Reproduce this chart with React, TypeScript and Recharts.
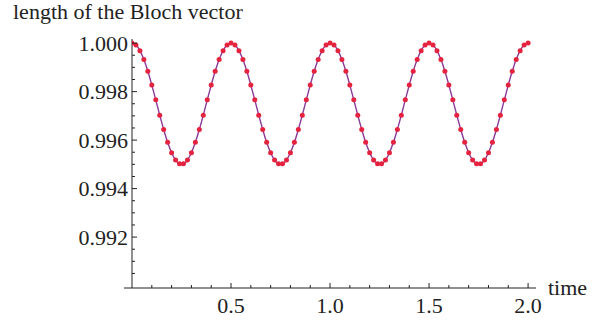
import { LineChart, Line, XAxis, YAxis, ReferenceLine } from 'recharts';

// sample times (every 0.02)
const times = [
  0, 0.02, 0.04, 0.06, 0.08, 0.1, 0.12, 0.14, 0.16, 0.18, 0.2, 0.22, 0.24, 0.26, 0.28, 0.3, 0.32, 0.34, 0.36, 0.38,
  0.4, 0.42, 0.44, 0.46, 0.48, 0.5, 0.52, 0.54, 0.56, 0.58, 0.6, 0.62, 0.64, 0.66, 0.68, 0.7, 0.72, 0.74, 0.76, 0.78,
  0.8, 0.82, 0.84, 0.86, 0.88, 0.9, 0.92, 0.94, 0.96, 0.98, 1.0, 1.02, 1.04, 1.06, 1.08, 1.1, 1.12, 1.14, 1.16, 1.18,
  1.2, 1.22, 1.24, 1.26, 1.28, 1.3, 1.32, 1.34, 1.36, 1.38, 1.4, 1.42, 1.44, 1.46, 1.48, 1.5, 1.52, 1.54, 1.56, 1.58,
  1.6, 1.62, 1.64, 1.66, 1.68, 1.7, 1.72, 1.74, 1.76, 1.78, 1.8, 1.82, 1.84, 1.86, 1.88, 1.9, 1.92, 1.94, 1.96, 1.98,
  2.0,
];

// length of the Bloch vector at each sample
const blochLength = [
  1.0, 0.99992, 0.99969, 0.99932, 0.99884, 0.99827, 0.99766, 0.99703, 0.99644, 0.99591, 0.99548, 0.99518, 0.99502,
  0.99502, 0.99518, 0.99548, 0.99591, 0.99644, 0.99703, 0.99766, 0.99827, 0.99884, 0.99932, 0.99969, 0.99992, 1.0,
  0.99992, 0.99969, 0.99932, 0.99884, 0.99827, 0.99766, 0.99703, 0.99644, 0.99591, 0.99548, 0.99518, 0.99502,
  0.99502, 0.99518, 0.99548, 0.99591, 0.99644, 0.99703, 0.99766, 0.99827, 0.99884, 0.99932, 0.99969, 0.99992, 1.0,
  0.99992, 0.99969, 0.99932, 0.99884, 0.99827, 0.99766, 0.99703, 0.99644, 0.99591, 0.99548, 0.99518, 0.99502,
  0.99502, 0.99518, 0.99548, 0.99591, 0.99644, 0.99703, 0.99766, 0.99827, 0.99884, 0.99932, 0.99969, 0.99992, 1.0,
  0.99992, 0.99969, 0.99932, 0.99884, 0.99827, 0.99766, 0.99703, 0.99644, 0.99591, 0.99548, 0.99518, 0.99502,
  0.99502, 0.99518, 0.99548, 0.99591, 0.99644, 0.99703, 0.99766, 0.99827, 0.99884, 0.99932, 0.99969, 0.99992, 1.0,
];

const xTicks = [0.1, 0.2, 0.3, 0.4, 0.5, 0.6, 0.7, 0.8, 0.9, 1.0, 1.1, 1.2, 1.3, 1.4, 1.5, 1.6, 1.7, 1.8, 1.9, 2.0];
const xLabels = [0.5, 1.0, 1.5, 2.0];
const yTicks = [
  0.9905, 0.991, 0.9915, 0.992, 0.9925, 0.993, 0.9935, 0.994, 0.9945, 0.995, 0.9955, 0.996, 0.9965, 0.997, 0.9975,
  0.998, 0.9985, 0.999, 0.9995, 1.0,
];
const yLabels = [0.992, 0.994, 0.996, 0.998, 1.0];

const data = times.map((t, i) => ({ t, v: blochLength[i] }));

const FONT = '"Liberation Serif", "Times New Roman", serif';
const FS = 22;
const AXIS = '#222';

const isLabel = (list: number[], v: number) => list.some((l) => Math.abs(l - v) < 1e-7);

function XTick(props: any) {
  const { x, y, payload } = props;
  const major = isLabel(xLabels, payload.value);
  return (
    <g>
      <line x1={x} x2={x} y1={y} y2={y - (major ? 5 : 3)} stroke={AXIS} strokeWidth={1} />
      {major && (
        <text x={x} y={y + 25} textAnchor="middle" fontFamily={FONT} fontSize={FS} fill="#222">
          {payload.value.toFixed(1)}
        </text>
      )}
    </g>
  );
}

function YTick(props: any) {
  const { x, y, payload } = props;
  const major = isLabel(yLabels, payload.value);
  const ax = x + 4;
  return (
    <g>
      <line x1={ax} x2={ax + (major ? 5 : 3)} y1={y} y2={y} stroke={AXIS} strokeWidth={1} />
      {major && (
        <text x={x} y={y} dy="0.35em" textAnchor="end" fontFamily={FONT} fontSize={FS} fill="#222">
          {payload.value.toFixed(3)}
        </text>
      )}
    </g>
  );
}

export default function App() {
  return (
    <div style={{ position: 'absolute', left: 0, top: 0, width: 606, height: 322, background: '#fff' }}>
      <LineChart width={606} height={322} data={data} margin={{ top: 39, right: 70, left: 72, bottom: 4 }}>
        <XAxis
          dataKey="t"
          type="number"
          domain={[0, 2.04]}
          allowDataOverflow
          ticks={xTicks}
          interval={0}
          tick={<XTick />}
          tickLine={false}
          tickSize={0}
          tickMargin={0}
          height={30}
          stroke={AXIS}
        />
        <YAxis
          type="number"
          domain={[0.9899, 1.00017]}
          allowDataOverflow
          ticks={yTicks}
          interval={0}
          tick={<YTick />}
          tickLine={false}
          tickSize={0}
          tickMargin={4}
          width={60}
          stroke={AXIS}
        />
        <ReferenceLine
          segment={[
            { x: -0.04, y: 0.9899 },
            { x: 0, y: 0.9899 },
          ]}
          stroke={AXIS}
          ifOverflow="visible"
        />
        <Line
          dataKey="v"
          type="monotone"
          stroke="#8a3a99"
          strokeWidth={1.4}
          dot={{ r: 2.5, fill: '#e6233f', stroke: 'none' }}
          isAnimationActive={false}
        />
      </LineChart>
      <svg width={606} height={322} style={{ position: 'absolute', left: 0, top: 0, pointerEvents: 'none' }}>
        <text x={13} y={19} fontFamily={FONT} fontSize={FS} fill="#222">
          length of the Bloch vector
        </text>
        <text x={548} y={295} fontFamily={FONT} fontSize={FS} fill="#222">
          time
        </text>
      </svg>
    </div>
  );
}
